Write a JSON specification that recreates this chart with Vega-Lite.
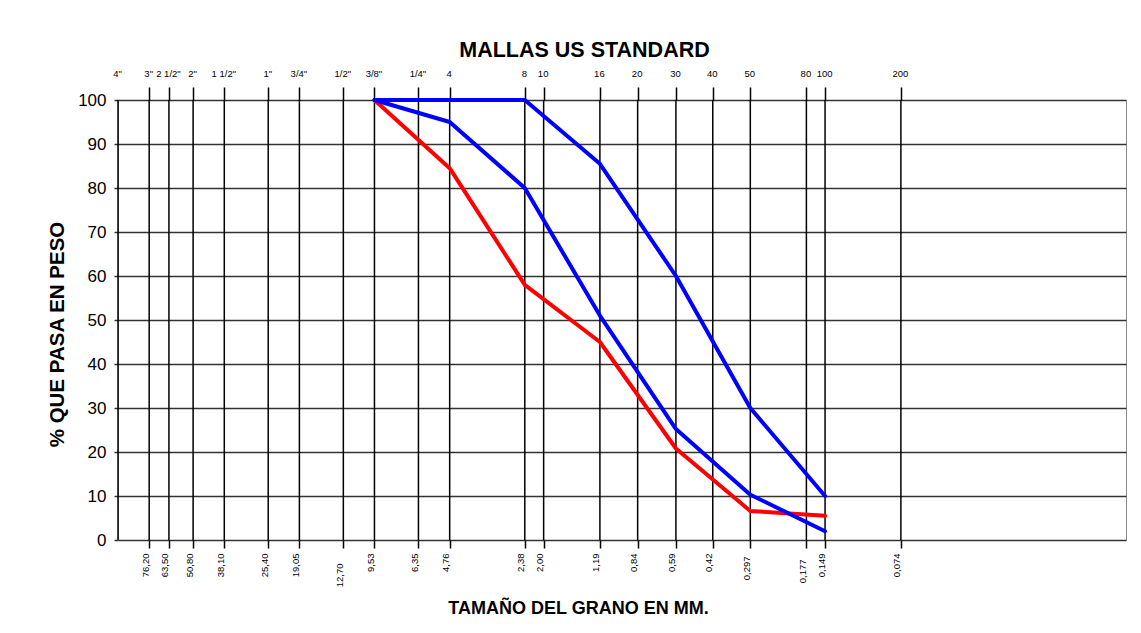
{
  "$schema": "https://vega.github.io/schema/vega-lite/v6.json",
  "width": 1008,
  "height": 440,
  "autosize": {"type": "none"},
  "padding": {"left": 118, "top": 100, "right": 15, "bottom": 93},
  "background": "white",
  "config": {
    "view": {"stroke": "#8c8c8c", "strokeWidth": 1},
    "font": "Liberation Sans"
  },
  "layer": [
    {
      "data": {
        "values": [
          {"malla": "4\"", "mm": 101.6},
          {"malla": "3\"", "mm": 76.2},
          {"malla": "2 1/2\"", "mm": 63.5},
          {"malla": "2\"", "mm": 50.8},
          {"malla": "1 1/2\"", "mm": 38.1},
          {"malla": "1\"", "mm": 25.4},
          {"malla": "3/4\"", "mm": 19.05},
          {"malla": "1/2\"", "mm": 12.7},
          {"malla": "3/8\"", "mm": 9.53},
          {"malla": "1/4\"", "mm": 6.35},
          {"malla": "4", "mm": 4.76},
          {"malla": "8", "mm": 2.38},
          {"malla": "10", "mm": 2.0},
          {"malla": "16", "mm": 1.19},
          {"malla": "20", "mm": 0.84},
          {"malla": "30", "mm": 0.59},
          {"malla": "40", "mm": 0.42},
          {"malla": "50", "mm": 0.297},
          {"malla": "80", "mm": 0.177},
          {"malla": "100", "mm": 0.149},
          {"malla": "200", "mm": 0.074}
        ]
      },
      "mark": {"type": "rule", "color": "#000000", "strokeWidth": 1.5},
      "encoding": {
        "x": {
          "field": "mm",
          "type": "quantitative",
          "scale": {"type": "log", "domain": [0.00927, 101.6], "reverse": true, "nice": false},
          "axis": {
            "orient": "top",
            "values": [101.6, 76.2, 63.5, 50.8, 38.1, 25.4, 19.05, 12.7, 9.53, 6.35, 4.76, 2.38, 2, 1.19, 0.84, 0.59, 0.42, 0.297, 0.177, 0.149, 0.074],
            "labelExpr": "({'101.6':'4\"','76.2':'3\"','63.5':'2 1/2\"','50.8':'2\"','38.1':'1 1/2\"','25.4':'1\"','19.05':'3/4\"','12.7':'1/2\"','9.53':'3/8\"','6.35':'1/4\"','4.76':'4','2.38':'8','2':'10','1.19':'16','0.84':'20','0.59':'30','0.42':'40','0.297':'50','0.177':'80','0.149':'100','0.074':'200'})[''+datum.value]",
            "domain": false,
            "grid": false,
            "ticks": true,
            "tickSize": 13,
            "tickColor": "#000000",
            "tickWidth": 1.5,
            "tickOpacity": {"condition": {"test": "datum.value == 101.6", "value": 0}, "value": 1},
            "labelPadding": 9,
            "labelFont": "Liberation Sans",
            "labelFontSize": 9.5,
            "labelColor": "#000000",
            "labelAngle": 0,
            "labelOffset": -1,
            "labelOverlap": false,
            "labelFlush": false,
            "labelBound": false,
            "title": "MALLAS US STANDARD",
            "titleFontSize": 21.5,
            "titleFontWeight": "bold",
            "titleColor": "#000000",
            "titleX": 466,
            "titleY": -44,
            "titleAlign": "center",
            "titleBaseline": "alphabetic"
          }
        }
      }
    },
    {
      "data": {
        "values": [
          {"serie": "Muestra", "mm": 9.53, "pct": 100},
          {"serie": "Muestra", "mm": 4.76, "pct": 84.5},
          {"serie": "Muestra", "mm": 2.38, "pct": 58},
          {"serie": "Muestra", "mm": 1.19, "pct": 45},
          {"serie": "Muestra", "mm": 0.59, "pct": 20.8},
          {"serie": "Muestra", "mm": 0.297, "pct": 6.6},
          {"serie": "Muestra", "mm": 0.149, "pct": 5.5},
          {"serie": "Límite inferior", "mm": 9.53, "pct": 100},
          {"serie": "Límite inferior", "mm": 4.76, "pct": 95},
          {"serie": "Límite inferior", "mm": 2.38, "pct": 80},
          {"serie": "Límite inferior", "mm": 1.19, "pct": 51},
          {"serie": "Límite inferior", "mm": 0.59, "pct": 25.2},
          {"serie": "Límite inferior", "mm": 0.297, "pct": 10.3},
          {"serie": "Límite inferior", "mm": 0.149, "pct": 2},
          {"serie": "Límite superior", "mm": 9.53, "pct": 100},
          {"serie": "Límite superior", "mm": 4.76, "pct": 100},
          {"serie": "Límite superior", "mm": 2.38, "pct": 100},
          {"serie": "Límite superior", "mm": 1.19, "pct": 85.5},
          {"serie": "Límite superior", "mm": 0.59, "pct": 60},
          {"serie": "Límite superior", "mm": 0.297, "pct": 30},
          {"serie": "Límite superior", "mm": 0.149, "pct": 10}
        ]
      },
      "mark": {"type": "line", "strokeWidth": 4, "strokeCap": "round", "strokeJoin": "round"},
      "encoding": {
        "x": {
          "field": "mm",
          "type": "quantitative",
          "axis": {
            "orient": "bottom",
            "values": [76.2, 63.5, 50.8, 38.1, 25.4, 19.05, 12.7, 9.53, 6.35, 4.76, 2.38, 2, 1.19, 0.84, 0.59, 0.42, 0.297, 0.177, 0.149, 0.074],
            "labelExpr": "replace(format(datum.value, datum.value < 0.3 ? '.3f' : '.2f'), '.', ',')",
            "domain": false,
            "grid": false,
            "tickSize": 8,
            "tickColor": "#000000",
            "tickWidth": 1.5,
            "labelAngle": -90,
            "labelPadding": {"condition": [{"test": "datum.value == 12.7", "value": 15}, {"test": "datum.value == 0.177", "value": 11}, {"test": "datum.value == 0.297", "value": 8}], "value": 5},
            "labelOffset": -4,
            "labelFont": "Liberation Sans",
            "labelFontSize": 9.5,
            "labelColor": "#000000",
            "labelOverlap": false,
            "labelFlush": false,
            "labelBound": false,
            "title": "TAMAÑO DEL GRANO EN MM.",
            "titleFontSize": 18,
            "titleFontWeight": "bold",
            "titleColor": "#000000",
            "titleX": 460,
            "titleY": 73,
            "titleAlign": "center",
            "titleBaseline": "alphabetic"
          }
        },
        "y": {
          "field": "pct",
          "type": "quantitative",
          "scale": {"domain": [0, 100], "nice": false},
          "axis": {
            "values": [0, 10, 20, 30, 40, 50, 60, 70, 80, 90, 100],
            "grid": true,
            "gridColor": "#333333",
            "gridWidth": 1.6,
            "domain": false,
            "tickSize": 4,
            "tickColor": "#333333",
            "tickWidth": 1.5,
            "labelFontSize": 17,
            "labelPadding": 8,
            "labelColor": "#000000",
            "title": "% QUE PASA EN PESO",
            "titleFontSize": 20.5,
            "titleFontWeight": "bold",
            "titleColor": "#000000",
            "titleAngle": -90,
            "titleX": -61,
            "titleY": 234,
            "titleAlign": "center",
            "titleBaseline": "middle"
          }
        },
        "color": {
          "field": "serie",
          "type": "nominal",
          "scale": {"domain": ["Muestra", "Límite inferior", "Límite superior"], "range": ["#ff0000", "#0000ff", "#0000ff"]},
          "legend": null
        }
      }
    }
  ],
  "resolve": {"axis": {"x": "independent"}}
}
